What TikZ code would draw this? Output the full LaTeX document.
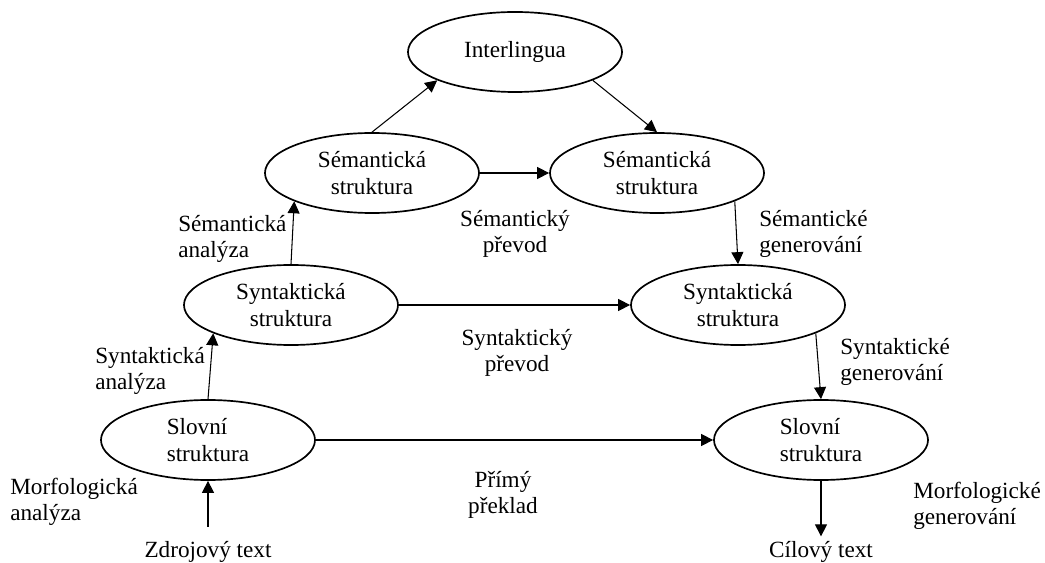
\documentclass[tikz,border=0pt]{standalone}
\usepackage{fontspec}
\setmainfont{Liberation Serif}
\usepackage{xcolor}
\usepackage{tikz}
\usetikzlibrary{shapes.geometric, arrows.meta, calc}

\begin{document}
\begin{tikzpicture}[x=0.025cm, y=-0.025cm,
    every node/.style={font=\fontsize{16.5}{18.8}\selectfont},
    level/.style={ellipse, draw, line width=1.2pt, minimum width=5.35cm,
          minimum height=2cm, inner sep=0pt, align=center},
    lbl/.style={inner sep=0pt, align=left, anchor=west},
    arr/.style={-{Triangle[length=0.3cm, width=0.3cm]}, line width=0.75pt}]
    \useasboundingbox (0,0) rectangle (1045,563);

    % levels of the pyramid
    \node[level] (inter) at (515,52) {Interlingua};
    \node[level] (semL) at (372,173) {Sémantická\\struktura};
    \node[level] (semR) at (657,173) {Sémantická\\struktura};
    \node[level] (synL) at (291,305) {Syntaktická\\struktura};
    \node[level] (synR) at (738,305) {Syntaktická\\struktura};
    \node[level, align=left] (sloL) at (208,440) {Slovní\\struktura};
    \node[level, align=left] (sloR) at (821,440) {Slovní\\struktura};

    \node[inner sep=0pt, anchor=base] (src) at (208,557) {Zdrojový text};
    \node[inner sep=0pt, anchor=base] (tgt) at (821,557) {Cílový text};

    % labels
    \node[lbl] (semAna) at (178,239) {Sémantická\\analýza};
    \node[lbl, align=center, anchor=center] (semPre) at (515,234) {Sémantický\\převod};
    \node[lbl] (semGen) at (759,234) {Sémantické\\generování};
    \node[lbl] (synAna) at (95,371) {Syntaktická\\analýza};
    \node[lbl, align=center, anchor=center] (synPre) at (517,353) {Syntaktický\\převod};
    \node[lbl] (synGen) at (840,362) {Syntaktické\\generování};
    \node[lbl, align=center, anchor=center] (direct) at (503,495) {Přímý\\překlad};
    \node[lbl] (morAna) at (10,502) {Morfologická\\analýza};
    \node[lbl] (morGen) at (913,506) {Morfologické\\generování};

    % arrows
    \draw[arr, shorten <=10pt] (src.north) -- (sloL.south);
    \draw[arr] (sloL.north) -- (synL.200);
    \draw[arr] (synL.north) -- (semL.200);
    \draw[arr] (semL.north) -- (inter.200);
    \draw[arr] (inter.340) -- (semR.north);
    \draw[arr] (semR.340) -- (synR.north);
    \draw[arr] (synR.340) -- (sloR.north);
    \draw[arr, shorten >=3pt] (sloR.south) -- (tgt.north);
    \draw[arr] (semL.east) -- (semR.west);
    \draw[arr] (synL.east) -- (synR.west);
    \draw[arr] (sloL.east) -- (sloR.west);
  \end{tikzpicture}
\end{document}
